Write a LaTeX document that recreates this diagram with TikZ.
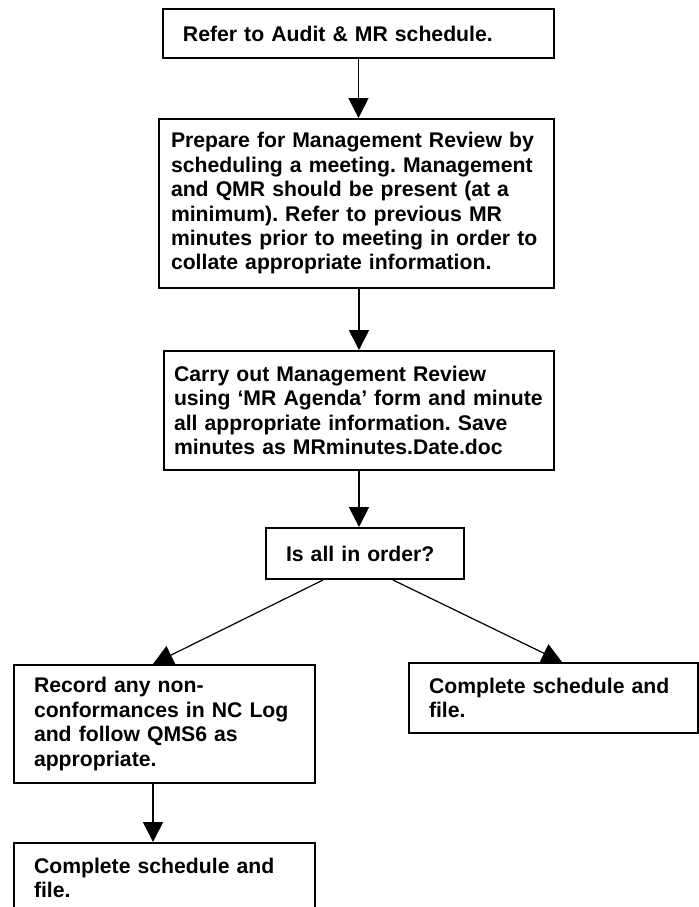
\documentclass[tikz,border=0pt]{standalone}
\usepackage{fontspec}
\setmainfont{Liberation Sans}
\usepackage{tikz}
\usetikzlibrary{positioning, arrows.meta}

\tikzset{
  caja/.style={draw, line width=1pt, align=left, anchor=north west, inner xsep=10pt, inner ysep=0pt,
    font=\bfseries\fontsize{10.6}{12.2}\selectfont\frenchspacing},
  flecha/.style={draw, line width=0.9pt, -{Triangle[length=10pt,width=10pt]}},
  diagonal/.style={draw, line width=0.6pt, -{Triangle[length=10pt,width=10pt]}}
}

\begin{document}
\begin{tikzpicture}[x=0.5pt, y=-0.5pt]

% Marco de la imagen
\useasboundingbox (0,0) rectangle (698,907);

% Cajas del proceso
\node[caja, text width=175.5pt, minimum height=24.5pt] (auditoria) at (162,8) {Refer to Audit \& MR schedule.};
\node[caja, inner xsep=6pt, text width=185.5pt, minimum height=84.5pt] (preparar) at (158,118)
  {Prepare for Management Review by\\ scheduling a meeting. Management\\ and QMR should be present (at a\\ minimum). Refer to previous MR\\ minutes prior to meeting in order to\\ collate appropriate information.};
\node[caja, inner xsep=5pt, text width=185pt, minimum height=59.5pt] (revision) at (163,350)
  {Carry out Management Review\\ using ‘MR Agenda’ form and minute\\ all appropriate information. Save\\ minutes as MRminutes.Date.doc};
\node[caja, text width=79pt, minimum height=25.5pt] (orden) at (265,527) {Is all in order?};  % Pregunta

% Las dos salidas
\node[caja, text width=130.5pt, minimum height=59pt] (registro) at (13,664)
  {Record any non-\\ conformances in NC Log\\ and follow QMS6 as\\ appropriate.};
\node[caja, text width=124.5pt, minimum height=35pt] (completar) at (408,662) {Complete schedule and\\ file.};
\node[caja, text width=130.5pt, minimum height=35pt] (completarb) at (13,842) {Complete schedule and\\ file.};

% Flechas
\draw[flecha] (auditoria.south) -- (auditoria.south |- preparar.north);
\draw[flecha] (preparar.south -| revision.north) -- (revision.north);
\draw[flecha] (revision.south) -- (revision.south |- orden.north);
\draw[diagonal] ([xshift=-21pt]orden.south) -- ([xshift=70pt]registro.north west);
\draw[diagonal] ([xshift=14pt]orden.south) -- ([xshift=77pt]completar.north west);
\draw[flecha] ([xshift=-5.75pt]registro.south) -- ([xshift=-5.75pt]registro.south |- completarb.north);

\end{tikzpicture}
\end{document}
